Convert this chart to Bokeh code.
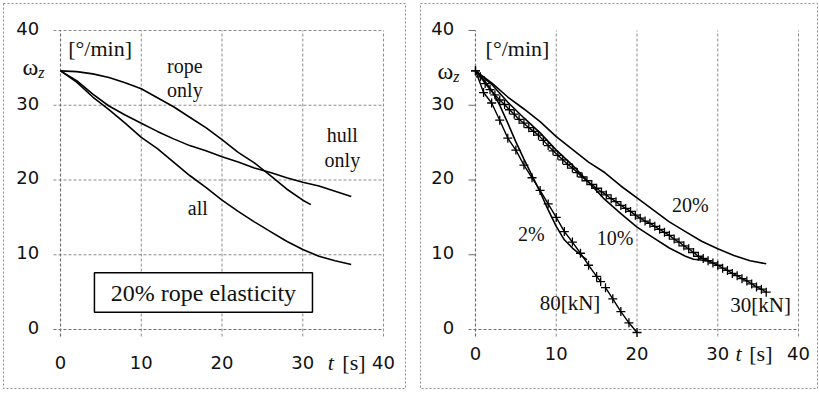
from bokeh.plotting import figure
from bokeh.layouts import row
from bokeh.models import Label, BoxAnnotation, Range1d
from bokeh.core.properties import value
from bokeh.embed import file_html
from bokeh.resources import INLINE

# ---------------- data: left panel (20% rope elasticity) ----------------
t_rope = [0, 2, 4, 6, 8, 10, 12, 14, 16, 18, 20, 22, 24, 26, 28, 30, 31]
rope_only = [34.6, 34.5, 34.2, 33.7, 33.0, 32.2, 31.0, 29.8, 28.4, 27.0, 25.4, 23.7, 22.3, 20.6, 18.8, 17.3, 16.7]

t_left = [0, 2, 4, 6, 8, 10, 12, 14, 16, 18, 20, 22, 24, 26, 28, 30, 32, 34, 36]
hull_only = [34.6, 33.3, 31.5, 29.9, 28.7, 27.6, 26.5, 25.5, 24.6, 23.9, 23.1, 22.4, 21.6, 21.0, 20.3, 19.7, 19.2, 18.5, 17.8]
all_ = [34.6, 33.1, 31.1, 29.4, 27.6, 25.7, 24.2, 22.4, 20.6, 19.0, 17.3, 15.8, 14.4, 13.1, 11.8, 10.7, 9.8, 9.2, 8.7]

# ---------------- data: right panel ----------------
t_20 = [0, 2, 4, 6, 8, 10, 12, 14, 16, 18, 20, 22, 24, 26, 28, 30, 32, 34, 36]
e20 = [34.6, 33.0, 31.1, 29.5, 27.8, 25.8, 24.1, 22.4, 21.0, 19.2, 17.6, 16.0, 14.4, 13.1, 11.8, 10.8, 9.9, 9.2, 8.8]

t_10 = [0, 2, 4, 6, 8, 10, 12, 14, 16, 18, 20, 22, 24, 26, 27, 28.8]
e10 = [34.6, 32.8, 30.4, 28.3, 26.3, 24.0, 22.0, 19.7, 17.4, 15.5, 13.7, 12.3, 10.9, 9.8, 9.4, 9.2]

t_2 = [0, 1, 2, 3, 4, 5, 6, 7, 8, 9, 10, 11, 12, 13, 13.8]
e2 = [34.6, 33.4, 32.0, 30.0, 27.6, 25.1, 22.8, 20.6, 18.4, 16.0, 13.8, 12.0, 10.9, 10.0, 9.3]

t_80 = [0, 1, 2, 3, 4, 5, 6, 7, 8, 9, 10, 11, 12, 13, 14, 15, 15.5, 15.8, 16.1, 17, 18, 19, 20]
kn80 = [34.6, 31.7, 30.3, 28.0, 25.6, 24.0, 22.0, 20.3, 18.6, 16.8, 15.0, 13.1, 11.7, 10.2, 8.6, 7.1, 6.4, float("nan"), 5.6, 4.1, 2.4, 0.9, -0.4]

t_30 = [0, 0.6, 1.2, 1.8, 2.4, 3.0, 3.6, 4.2, 4.8, 5.4, 6.0, 6.6, 7.2, 7.8, 8.4, 9.0, 9.6,
        10.2, 10.8, 11.4, 12.0, 12.6, 13.2, 13.8, 14.4, 15.0, 15.6, 16.2, 16.8, 17.4, 18.0,
        18.6, 19.2, 19.8, 20.4, 21.0, 21.6, 22.2, 22.8, 23.4, 24.0, 24.6, 25.2, 25.8, 26.4,
        27.0, 27.6, 28.2, 28.8, 29.4, 30.0, 30.6, 31.2, 31.8, 32.4, 33.0, 33.6, 34.2, 34.8,
        35.4, 36.0]
kn30 = [34.6, 33.8, 32.9, 32.1, 31.4, 30.7, 30.1, 29.4, 28.8, 28.1, 27.6, 27.0, 26.5, 26.0, 25.3, 24.6, 23.9,
        23.3, 22.7, 22.1, 21.6, 21.0, 20.4, 19.9, 19.4, 18.9, 18.4, 18.0, 17.5, 17.1, 16.6,
        16.2, 15.8, 15.3, 14.9, 14.5, 14.2, 13.8, 13.4, 13.0, 12.6, 12.1, 11.7, 11.2, 10.8,
        10.3, 9.8, 9.5, 9.2, 8.9, 8.6, 8.2, 7.9, 7.5, 7.2, 6.8, 6.5, 6.1, 5.7,
        5.4, 5.0]

# ---------------- axes ----------------
x_ticks = [0, 10, 20, 30, 40]
x_tick_labels = ["0", "10", "20", "30", "40"]
y_ticks = [0, 10, 20, 30, 40]
y_tick_labels = ["0", "10", "20", "30", "40"]
grid_ticks = [10, 20, 30, 40]
AX_MAX = 40

SERIF = "Liberation Serif"
SANS = "DejaVu Sans"
INK = "#111111"
GRID = "#8c8c8c"
AXIS = "#6e6e6e"


def make_panel(width, xr, bl, br, hgrid, xlab_y):
    p = figure(width=width, height=392, x_range=Range1d(*xr), y_range=Range1d(-7.89, 43.61),
               output_backend="svg", toolbar_location=None,
               x_axis_location=None, y_axis_location=None,
               min_border_left=bl, min_border_right=br, min_border_top=3, min_border_bottom=4)
    p.xgrid.visible = False
    p.ygrid.visible = False
    p.outline_line_color = GRID
    p.outline_line_dash = "2 2"
    p.outline_line_width = 1
    p.background_fill_color = "white"
    p.border_fill_color = "white"
    tick_x = 0.87   # 7 px tick length in x data units
    tick_y = 0.94   # 7 px tick length in y data units
    # vertical grid lines (through the x ticks)
    p.segment(x0=grid_ticks, y0=[-tick_y] * len(grid_ticks), x1=grid_ticks, y1=[AX_MAX] * len(grid_ticks),
              line_color=GRID, line_dash="3 2", line_width=1)
    if hgrid:
        p.segment(x0=[-tick_x] * len(grid_ticks), y0=grid_ticks, x1=[AX_MAX] * len(grid_ticks), y1=grid_ticks,
                  line_color=GRID, line_dash="3 2", line_width=1)
    else:
        p.segment(x0=[-tick_x] * len(grid_ticks), y0=grid_ticks, x1=[0] * len(grid_ticks), y1=grid_ticks,
                  line_color=AXIS, line_width=1)
    # axis lines
    p.segment(x0=[0, -tick_x], y0=[-tick_y, 0], x1=[0, AX_MAX], y1=[AX_MAX, 0],
              line_color=AXIS, line_dash="3 2", line_width=1.2)
    # tick labels
    p.text(x=x_ticks, y=[xlab_y] * len(x_ticks), text=x_tick_labels,
           text_font=value(SANS), text_font_size="18px", text_color=INK,
           text_align="center", text_baseline="middle")
    p.text(x=[-2.65] * len(y_ticks), y=[v + 0.3 for v in y_ticks], text=y_tick_labels,
           text_font=value(SANS), text_font_size="18px", text_color=INK,
           text_align="right", text_baseline="middle")
    return p


def txt(p, x, y, s, size="20px", font=SERIF, style="normal", align="center"):
    p.add_layout(Label(x=x, y=y, text=s, text_font=font, text_font_size=size,
                       text_font_style=style, text_color=INK,
                       text_align=align, text_baseline="middle"))


# ---------------- left panel ----------------
p1 = make_panel(410, (-7.06, 42.72), 3, 5, True, -4.4)
p1.line(t_rope, rope_only, line_color="black", line_width=1.6)
p1.line(t_left, hull_only, line_color="black", line_width=1.6)
p1.line(t_left, all_, line_color="black", line_width=1.6)
txt(p1, 4.9, 37.6, "[°/min]", size="22px")
txt(p1, -4.7, 35.1, "ω", size="24px", align="left")
txt(p1, -2.75, 34.4, "z", size="16px", style="italic", align="left")
txt(p1, 33.1, -4.4, "t", size="22px", style="italic", align="left")
txt(p1, 34.9, -4.4, "[s]", size="22px", align="left")
txt(p1, 15.4, 35.2, "rope")
txt(p1, 15.4, 32.1, "only")
txt(p1, 34.9, 26.0, "hull")
txt(p1, 34.9, 22.7, "only")
txt(p1, 17.0, 16.3, "all")
p1.add_layout(BoxAnnotation(left=4.2, right=31.2, bottom=2.3, top=7.6,
                            fill_color="white", fill_alpha=1.0,
                            line_color="black", line_width=1.5, line_alpha=1.0))
txt(p1, 17.7, 4.95, "20% rope elasticity", size="24px")

# ---------------- right panel ----------------
p2 = make_panel(406, (-6.81, 42.35), 8, 1, False, -3.2)
p2.line(t_20, e20, line_color="black", line_width=1.6)
p2.line(t_10, e10, line_color="black", line_width=1.6)
p2.line(t_2, e2, line_color="black", line_width=1.6)
p2.line(t_80, kn80, line_color="black", line_width=1.4)
p2.scatter(t_80, kn80, marker="cross", size=9, line_color="black", line_width=1.3)
p2.line(t_30, kn30, line_color="black", line_width=1.4)
p2.scatter(t_30, kn30, marker="cross", size=9, line_color="black", line_width=1.3)
txt(p2, 5.2, 37.6, "[°/min]", size="22px")
txt(p2, -4.7, 34.6, "ω", size="24px", align="left")
txt(p2, -2.75, 33.9, "z", size="16px", style="italic", align="left")
txt(p2, 32.2, -3.2, "t", size="22px", style="italic", align="left")
txt(p2, 33.9, -3.2, "[s]", size="22px", align="left")
txt(p2, 6.9, 12.8, "2%")
txt(p2, 17.3, 12.3, "10%")
txt(p2, 26.6, 16.6, "20%")
txt(p2, 11.7, 3.6, "80[kN]", size="21px")
txt(p2, 35.3, 3.3, "30[kN]", size="21px")

layout = row(p1, p2, spacing=2)
open("out.html", "w").write(file_html(layout, INLINE))
